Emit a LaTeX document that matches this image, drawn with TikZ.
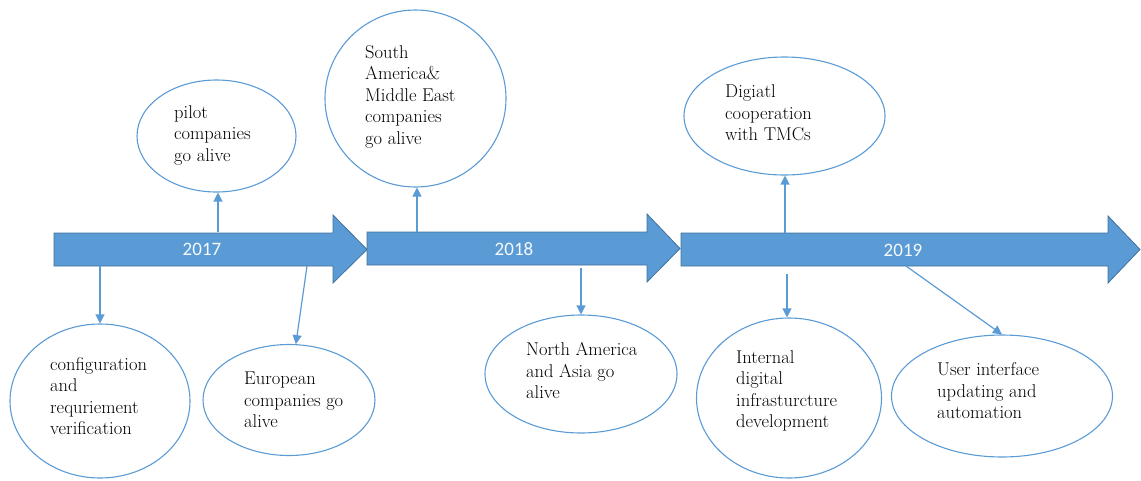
\documentclass[tikz,border=0pt]{standalone}
\usepackage{fontspec}
\newfontfamily\yearfont{Carlito}
\usetikzlibrary{arrows.meta,shapes.geometric}
\definecolor{bar}{HTML}{5B9BD5}
\definecolor{barline}{HTML}{41719C}
\definecolor{ring}{HTML}{5B9BD5}
\begin{document}
\begin{tikzpicture}[x=1pt,y=-1pt,
 bubble/.style={ellipse, draw=ring, line width=1.1pt, inner sep=0pt},
 txt/.style={anchor=west, align=left, font=\rmfamily\fontsize{18.5}{21.5}\selectfont, inner sep=0pt, text=black},
 yr/.style={font=\yearfont\fontsize{19}{20}\selectfont, text=white!94!bar, inner sep=0pt},
 conn/.style={draw=bar, line width=1.2pt, -{Triangle[length=9pt,width=9pt]}},
 bararrow/.style={fill=bar, draw=barline, line width=0.8pt}]
\useasboundingbox (0,0) rectangle (1141,480);
% timeline arrows
\draw[bararrow] (54,233) -- (333,233) -- (333,215) -- (367,249.5) -- (333,283) -- (333,266) -- (54,266) -- cycle;
\draw[bararrow] (367,232) -- (647,232) -- (647,214) -- (680,248.5) -- (647,282) -- (647,265) -- (367,265) -- cycle;
\draw[bararrow] (681,233) -- (1108,233) -- (1108,216) -- (1140,249.5) -- (1108,283) -- (1108,266) -- (681,266) -- cycle;
\node[yr] (y1) at (202,249) {2017};
\node[yr] (y2) at (514,249) {2018};
\node[yr] (y3) at (903,250) {2019};
% connector start points on the timeline
\coordinate (s1) at (100,266);
\coordinate (s2) at (307,266);
\coordinate (s3) at (218,232);
\coordinate (s4) at (417,232);
\coordinate (s5) at (581,268);
\coordinate (s6) at (785,233);
\coordinate (s7) at (787,274);
\coordinate (s8) at (906,266);
% ellipses
\node[bubble, minimum width=180pt, minimum height=154pt] (e1) at (100,401) {};
\node[bubble, minimum width=172pt, minimum height=111pt] (e2) at (289,400) {};
\node[bubble, minimum width=159pt, minimum height=112pt] (e3) at (216.5,136) {};
\node[bubble, minimum width=181pt, minimum height=177pt] (e4) at (415.5,98.5) {};
\node[bubble, minimum width=201pt, minimum height=118pt] (e5) at (784.5,116) {};
\node[bubble, minimum width=192pt, minimum height=118pt] (e6) at (581,374) {};
\node[bubble, minimum width=185pt, minimum height=160pt] (e7) at (789,398) {};
\node[bubble, minimum width=221pt, minimum height=122pt] (e8) at (1002,396) {};
% texts
\node[txt] (t1) at (50,396) {configuration\\and\\requriement\\verification};
\node[txt] (t2) at (244,400) {European\\companies go\\alive};
\node[txt] (t3) at (174,135) {pilot\\companies\\go alive};
\node[txt] (t4) at (365,96.5) {South\\America\&\\Middle East\\companies\\go alive};
\node[txt] (t5) at (725,113) {Digiatl\\cooperation\\with TMCs};
\node[txt] (t6) at (526,371) {North America\\and Asia go\\alive};
\node[txt] (t7) at (736,391) {Internal\\digital\\infrasturcture\\development};
\node[txt] (t8) at (937,391) {User interface\\updating and\\automation};
% connectors
\draw[conn] (s1) -- (e1.north);
\draw[conn] (s2) -- (e2.83);
\draw[conn] (s3) -- (e3.south -| s3);
\draw[conn] (s4) -- (e4.south -| s4);
\draw[conn] (s5) -- (e6.north -| s5);
\draw[conn] (s6) -- (e5.south -| s6);
\draw[conn] (s7) -- (e7.north -| s7);
\draw[conn] (s8) -- (e8.north);
\end{tikzpicture}
\end{document}
